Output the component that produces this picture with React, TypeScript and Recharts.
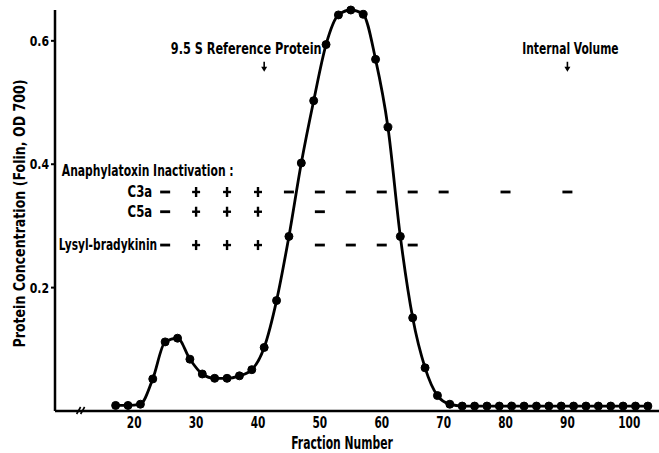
import React from "react";
import {
  ComposedChart, Line, Scatter, XAxis, YAxis, ReferenceDot, Label,
} from "recharts";

const FONT = '"DejaVu Sans", "Liberation Sans", sans-serif';

// elution profile: fraction number vs protein concentration (Folin, OD 700)
const fractions = [
  17, 19, 21, 23, 25, 27, 29, 31, 33, 35, 37, 39, 41, 43, 45, 47, 49, 51, 53, 55,
  57, 59, 61, 63, 65, 67, 69, 71, 73, 75, 77, 79, 81, 83, 85, 87, 89, 91, 93, 95,
  97, 99, 101, 103,
];
const concentration = [
  0.009, 0.009, 0.011, 0.052, 0.112, 0.118, 0.084, 0.060, 0.053, 0.053, 0.057, 0.067,
  0.103, 0.179, 0.283, 0.402, 0.503, 0.594, 0.642, 0.650, 0.643, 0.570, 0.460, 0.283,
  0.151, 0.070, 0.025, 0.011, 0.008, 0.008, 0.008, 0.008, 0.008, 0.008, 0.008, 0.008,
  0.008, 0.008, 0.008, 0.008, 0.008, 0.008, 0.008, 0.008,
];

const xTicks = [20, 30, 40, 50, 60, 70, 80, 90, 100];
const yTicks = [0.2, 0.4, 0.6];

// anaphylatoxin inactivation tests
const testFractions = [25, 30, 35, 40, 45, 50, 55, 60, 65, 70, 80, 90];
const c3aSigns = ["–", "+", "+", "+", "–", "–", "–", "–", "–", "–", "–", "–"];
const c5aSigns = ["–", "+", "+", "+", "", "–", "", "", "", "", "", ""];
const lysylSigns = ["–", "+", "+", "+", "", "–", "–", "–", "–", "", "", ""];
const rowNames = ["C3a", "C5a", "Lysyl-bradykinin"];
const rowLevels = [0.355, 0.323, 0.269];
const headingLevel = 0.391;

const markers = [
  { fraction: 41, text: "9.5 S Reference Protein" },
  { fraction: 90, text: "Internal Volume" },
];
const markerLevel = 0.558;

const data = fractions.map((f, i) => ({ f, c: concentration[i] }));

const signRows = [c3aSigns, c5aSigns, lysylSigns];
const signData = signRows.flatMap((row, r) =>
  row
    .map((s, i) => ({ f: testFractions[i], y: rowLevels[r], sign: s }))
    .filter((d) => d.sign !== "")
);

// condensed bold text (the original uses a very narrow typeface)
function CText({ x, y, size, sx, anchor = "start", rotate = 0, dy, children }: any) {
  const t = `translate(${x},${y})${rotate ? ` rotate(${rotate})` : ""} scale(${sx},1)`;
  return (
    <text
      transform={t}
      textAnchor={anchor}
      dominantBaseline={dy ? undefined : "central"}
      dy={dy}
      fontFamily={FONT}
      fontWeight={700}
      fontSize={size}
      fill="#000"
    >
      {children}
    </text>
  );
}

const SignShape = (props: any) => {
  const { cx, cy, payload } = props;
  if (payload.sign === "+") {
    return (
      <g stroke="#000" strokeWidth={2.4}>
        <line x1={cx - 4} y1={cy} x2={cx + 4} y2={cy} />
        <line x1={cx} y1={cy - 5} x2={cx} y2={cy + 5} />
      </g>
    );
  }
  return <rect x={cx - 5} y={cy - 1.4} width={10} height={2.8} fill="#000" />;
};

const XTick = (props: any) => (
  <CText x={props.x} y={props.y} size={16} sx={0.66} anchor="middle" dy="0.71em">
    {props.payload.value}
  </CText>
);

const YTick = (props: any) => (
  <CText x={props.x} y={props.y} size={14} sx={0.78} anchor="end">
    {Number(props.payload.value).toFixed(1)}
  </CText>
);

export default function App() {
  return (
    <div style={{ position: "absolute", left: 0, top: 0, background: "#fff" }}>
      <ComposedChart
        width={659}
        height={453}
        data={data}
        margin={{ top: 10, right: 0, bottom: 12, left: 0 }}
      >
        <XAxis
          type="number"
          dataKey="f"
          domain={[7.2, 104.8]}
          ticks={xTicks}
          height={30}
          tickLine={false}
          tickSize={4}
          tickMargin={2}
          axisLine={{ stroke: "#000", strokeWidth: 2.5 }}
          tick={<XTick />}
          allowDataOverflow
        >
          <Label
            content={(p: any) => {
              const vb = p.viewBox;
              return (
                <CText x={vb.x + vb.width / 2 - 15} y={vb.y + 31} size={18} sx={0.6} anchor="middle">
                  Fraction Number
                </CText>
              );
            }}
          />
        </XAxis>
        <YAxis
          type="number"
          domain={[0, 0.65]}
          ticks={yTicks}
          width={55}
          tickSize={4}
          tickMargin={2}
          tickLine={{ stroke: "#000", strokeWidth: 2 }}
          axisLine={{ stroke: "#000", strokeWidth: 2.5 }}
          tick={<YTick />}
        >
          <Label
            content={(p: any) => {
              const vb = p.viewBox;
              return (
                <CText x={vb.x + 20} y={vb.y + vb.height / 2 + 3} size={15} sx={0.84} anchor="middle" rotate={-90}>
                  Protein Concentration (Folin, OD 700)
                </CText>
              );
            }}
          />
        </YAxis>

        {/* axis break */}
        <ReferenceDot
          x={11.5}
          y={0}
          ifOverflow="visible"
          shape={(p: any) => (
            <g stroke="#000" strokeWidth={1.6}>
              <line x1={p.cx - 5} y1={p.cy + 3} x2={p.cx - 1} y2={p.cy - 4} />
              <line x1={p.cx - 1} y1={p.cy + 3} x2={p.cx + 3} y2={p.cy - 4} />
            </g>
          )}
        />

        <Line
          dataKey="c"
          type="monotone"
          stroke="#000"
          strokeWidth={2.8}
          dot={{ r: 4, fill: "#000", stroke: "#000", strokeWidth: 1 }}
          isAnimationActive={false}
        />

        <Scatter
          data={signData}
          dataKey="y"
          shape={SignShape}
          isAnimationActive={false}
        />

        {/* row headings */}
        <ReferenceDot
          x={8.3}
          y={headingLevel}
          ifOverflow="visible"
          shape={(p: any) => (
            <CText x={p.cx} y={p.cy} size={16} sx={0.675}>
              Anaphylatoxin Inactivation :
            </CText>
          )}
        />
        {rowNames.map((name, i) => (
          <ReferenceDot
            key={name}
            x={testFractions[0]}
            y={rowLevels[i]}
            ifOverflow="visible"
            shape={(p: any) => (
              <CText x={p.cx - (i === 2 ? 8 : 13)} y={p.cy} size={15} sx={i === 2 ? 0.71 : 0.78} anchor="end">
                {name}
              </CText>
            )}
          />
        ))}

        {/* position markers */}
        {markers.map((m, i) => (
          <ReferenceDot
            key={m.text}
            x={m.fraction}
            y={markerLevel}
            ifOverflow="visible"
            shape={(p: any) => (
              <g>
                <CText x={p.cx + (i === 0 ? -18 : 3)} y={p.cy - 19} size={16} sx={i === 0 ? 0.705 : 0.67} anchor="middle">
                  {m.text}
                </CText>
                <line x1={p.cx} y1={p.cy - 5} x2={p.cx} y2={p.cy + 3} stroke="#000" strokeWidth={1.6} />
                <path d={`M${p.cx - 3},${p.cy} L${p.cx + 3},${p.cy} L${p.cx},${p.cy + 5} Z`} fill="#000" />
              </g>
            )}
          />
        ))}
      </ComposedChart>
    </div>
  );
}
